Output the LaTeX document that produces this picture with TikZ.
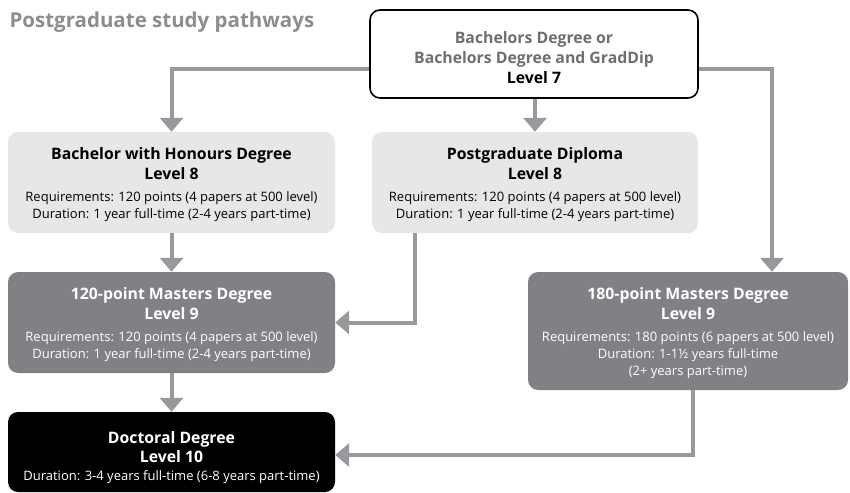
\documentclass[tikz,border=0pt]{standalone}
\usepackage{fontspec}
\setmainfont{Open Sans}
\usetikzlibrary{arrows.meta,calc}
\definecolor{arrowgray}{RGB}{152,153,157}
\definecolor{titlegray}{RGB}{140,141,145}
\definecolor{lightfill}{RGB}{230,231,232}
\definecolor{midfill}{RGB}{128,129,132}
\definecolor{headgray}{RGB}{110,111,115}
\newcommand{\hdf}{\fontsize{15.8}{20}\selectfont\bfseries}
\newcommand{\bdf}{\fontsize{13}{17}\selectfont\mdseries}
\tikzset{
  box/.style={rounded corners=10pt, inner sep=0pt},
  txt/.style={align=center, inner sep=0pt, font=\fontsize{13}{17}\selectfont},
  lightbox/.style={box, fill=lightfill},
  midbox/.style={box, fill=midfill},
  darkbox/.style={box, fill=black},
  topbox/.style={box, draw=black, line width=1.6pt, fill=white},
  arr/.style={draw=arrowgray, line width=4pt, -{Triangle[width=23pt,length=14pt]}}
}
\begin{document}
\begin{tikzpicture}[x=1pt,y=-1pt]
\useasboundingbox (0,0) rectangle (850,492);
\node[anchor=west, text=titlegray, font=\fontsize{20.5}{24}\selectfont\bfseries] (title) at (6,22) {Postgraduate study pathways};

% boxes
\node[topbox, minimum width=328pt, minimum height=88pt] (top) at (534,54) {};
\node[lightbox, minimum width=327pt, minimum height=101pt] (hon) at (171.5,182.5) {};
\node[lightbox, minimum width=326pt, minimum height=101pt] (pgd) at (535,182.5) {};
\node[midbox, minimum width=327pt, minimum height=101pt] (m120) at (171.5,322.5) {};
\node[midbox, minimum width=320pt, minimum height=118pt] (m180) at (688,331) {};
\node[darkbox, minimum width=327pt, minimum height=80pt] (doc) at (171.5,452) {};

% texts
\node[txt, font=\fontsize{15.8}{20}\selectfont] (top-t) at ([yshift=-3.5pt]top.center)
  {\hdf\color{headgray}Bachelors Degree or\\ \hdf\color{headgray}Bachelors Degree and GradDip\\ \hdf Level 7};

\node[txt, text=black] (hon-t) at ([yshift=-2pt]hon.center)
  {\hdf Bachelor with Honours Degree\\[3pt] \hdf Level 8\\[5pt] \bdf Requirements: 120 points (4 papers at 500 level)\\ \bdf Duration: 1 year full-time (2-4 years part-time)};

\node[txt, text=black] (pgd-t) at ([yshift=-2pt]pgd.center)
  {\hdf Postgraduate Diploma\\[3pt] \hdf Level 8\\[5pt] \bdf Requirements: 120 points (4 papers at 500 level)\\ \bdf Duration: 1 year full-time (2-4 years part-time)};

\node[txt, text=white] (m120-t) at ([yshift=-2.5pt]m120.center)
  {\hdf 120-point Masters Degree\\[3pt] \hdf Level 9\\[5pt] \bdf Requirements: 120 points (4 papers at 500 level)\\ \bdf Duration: 1 year full-time (2-4 years part-time)};

\node[txt, text=white] (m180-t) at ([yshift=-2.5pt]m180.center)
  {\hdf 180-point Masters Degree\\[3pt] \hdf Level 9\\[5pt] \bdf Requirements: 180 points (6 papers at 500 level)\\ \bdf Duration: 1-1½ years full-time\\ \bdf (2+ years part-time)};

\node[txt, text=white] (doc-t) at ([yshift=-6pt]doc.center)
  {\hdf Doctoral Degree\\[2pt] \hdf Level 10\\[1pt] \bdf Duration: 3-4 years full-time (6-8 years part-time)};

% connectors
\draw[arr] ($(top.west)+(0,15)$) -| (hon.north);
\draw[arr] (top.south -| pgd.north) -- (pgd.north);
\draw[arr] ($(top.east)+(0,15)$) -| ($(m180.north)+(84,0)$);
\draw[arr] (hon.south) -- (m120.north);
\draw[arr] ($(pgd.south)+(-120,0)$) |- (m120.east);
\draw[arr] (m120.south) -- (doc.north);
\draw[arr] ($(m180.south)+(5,0)$) |- ($(doc.east)+(0,3)$);
\end{tikzpicture}
\end{document}
